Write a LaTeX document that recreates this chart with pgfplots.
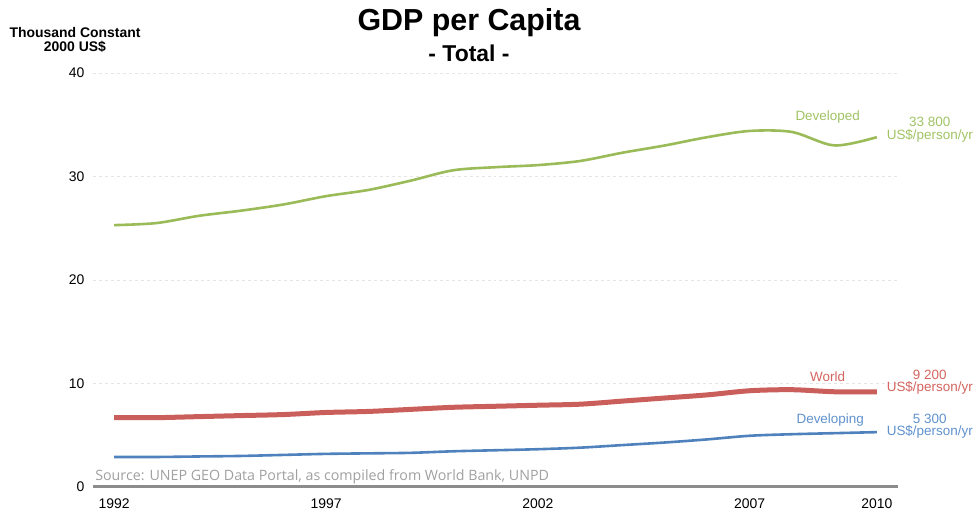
\documentclass[border=0pt]{standalone}
\usepackage{pgfplots}
\pgfplotsset{compat=1.18}
\usepackage{fontspec}
\setmainfont{Liberation Sans}
\newfontfamily\srcfont{Open Sans}
\definecolor{cgreen}{RGB}{155,187,89}
\definecolor{cred}{RGB}{201,94,90}
\definecolor{cblue}{RGB}{79,129,189}
\definecolor{tgreen}{RGB}{160,195,100}
\definecolor{tred}{RGB}{212,100,95}
\definecolor{tblue}{RGB}{95,145,205}
\begin{document}
\begin{tikzpicture}[x=1bp,y=1bp]
\useasboundingbox (0,0) rectangle (973,515);
\begin{axis}[
  at={(93bp,28bp)}, anchor=south west,
  scale only axis, width=805bp, height=414bp,
  xmin=1991.5, xmax=2010.5, ymin=0, ymax=40,
  clip=false,
  axis line style={draw=none},
  axis x line*=bottom, axis y line*=left,
  xtick={1992,1997,2002,2007,2010},
  ytick={0,10,20,30,40},
  xticklabel style={font=\fontsize{14}{15}\selectfont, yshift=-8bp},
  yticklabel style={font=\fontsize{14}{15}\selectfont, xshift=-5bp},
  x tick label style={/pgf/number format/1000 sep={}},
  /pgf/number format/assume math mode=true,
  major tick length=0pt,
  ymajorgrids, grid style={gray!20, dashed, line width=0.6pt},
  xmajorgrids=false,
]
\draw[color={rgb,255:red,140;green,140;blue,140}, line width=3bp] (axis cs:1991.5,0) -- (axis cs:2010.5,0);
\addplot[cgreen, line width=2.6bp, smooth, tension=0.5] coordinates {
(1992,25.3)(1993,25.5)(1994,26.2)(1995,26.7)(1996,27.3)(1997,28.1)(1998,28.7)(1999,29.6)(2000,30.6)(2001,30.9)(2002,31.1)(2003,31.5)(2004,32.3)(2005,33.0)(2006,33.8)(2007,34.4)(2008,34.3)(2009,33.0)(2010,33.8)};
\addplot[cred, line width=5bp, smooth, tension=0.5] coordinates {
(1992,6.7)(1993,6.7)(1994,6.8)(1995,6.9)(1996,7.0)(1997,7.2)(1998,7.3)(1999,7.5)(2000,7.7)(2001,7.8)(2002,7.9)(2003,8.0)(2004,8.3)(2005,8.6)(2006,8.9)(2007,9.3)(2008,9.4)(2009,9.2)(2010,9.2)};
\addplot[cblue, line width=2.6bp, smooth, tension=0.5] coordinates {
(1992,2.9)(1993,2.9)(1994,2.95)(1995,3.0)(1996,3.1)(1997,3.2)(1998,3.25)(1999,3.3)(2000,3.45)(2001,3.55)(2002,3.65)(2003,3.8)(2004,4.05)(2005,4.3)(2006,4.6)(2007,4.95)(2008,5.1)(2009,5.2)(2010,5.3)};
\node[tgreen, font=\fontsize{13.5}{15}\selectfont] at (axis cs:2008.84,35.75) {Developed};
\node[tgreen, font=\fontsize{13.5}{12.5}\selectfont, align=center] at (axis cs:2011.25,34.5) {33 800\\US\$/person/yr};
\node[tred, font=\fontsize{13.5}{15}\selectfont] at (axis cs:2008.84,10.7) {World};
\node[tred, font=\fontsize{13.5}{12.5}\selectfont, align=center] at (axis cs:2011.25,10.1) {9 200\\US\$/person/yr};
\node[tblue, font=\fontsize{13.5}{15}\selectfont] at (axis cs:2008.9,6.5) {Developing};
\node[tblue, font=\fontsize{13.5}{12.5}\selectfont, align=center] at (axis cs:2011.25,5.9) {5 300\\US\$/person/yr};
\node[anchor=base west, color={rgb,255:red,160;green,160;blue,160}, font=\srcfont\fontsize{14.3}{15}\selectfont, inner sep=0pt] at (axis cs:1991.55,0.65) {Source: UNEP GEO Data Portal, as compiled from World Bank, UNPD};
\end{axis}
\node[font=\bfseries\fontsize{30.5}{32}\selectfont] at (469,492) {GDP per Capita};
\node[font=\bfseries\fontsize{23}{24}\selectfont] at (469,462) {- Total -};
\node[font=\bfseries\fontsize{14}{13.5}\selectfont, align=center] at (75,475) {Thousand Constant\\2000 US\$};
\end{tikzpicture}
\end{document}
